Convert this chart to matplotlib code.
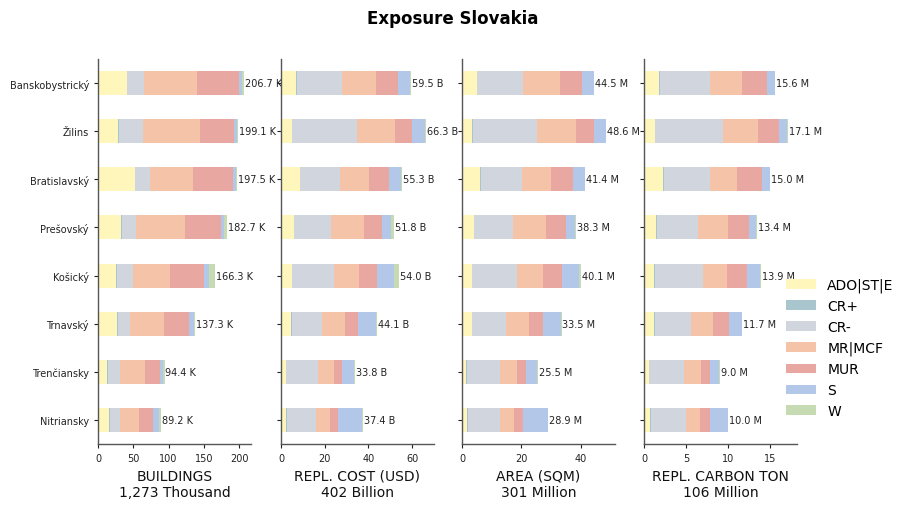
import matplotlib
matplotlib.use("Agg")
import matplotlib.pyplot as plt
from matplotlib.patches import Patch
import numpy as np

regions = ["Banskobystrický", "Žilins", "Bratislavský", "Prešovský",
           "Košický", "Trnavský", "Trenčiansky", "Nitriansky"]
classes = ["ADO|ST|E", "CR+", "CR-", "MR|MCF", "MUR", "S", "W"]

# rows follow regions; columns follow classes
buildings = [
    [40.5, 1.0, 23.5, 76.0, 59.0, 4.5, 2.2],
    [29.0, 1.0, 33.5, 81.5, 47.5, 4.5, 2.1],
    [52.0, 1.0, 20.5, 61.5, 56.0, 4.3, 2.2],
    [33.0, 0.5, 20.0, 70.0, 50.3, 4.5, 4.4],
    [26.0, 1.0, 22.0, 53.0, 49.0, 6.0, 9.3],
    [27.5, 1.0, 16.3, 48.7, 36.0, 7.3, 0.5],
    [13.3, 0.8, 16.4, 35.8, 21.5, 4.5, 2.1],
    [16.2, 0.8, 13.5, 27.2, 20.1, 8.6, 2.8],
]
repl_cost = [
    [6.9, 0.4, 20.4, 15.6, 10.1, 5.5, 0.6],
    [5.0, 0.1, 29.5, 17.4, 7.8, 6.0, 0.5],
    [8.7, 0.2, 17.9, 13.3, 9.2, 5.5, 0.5],
    [6.0, 0.1, 17.0, 14.7, 8.3, 4.1, 1.6],
    [5.0, 0.1, 19.2, 11.5, 8.3, 7.5, 2.4],
    [4.6, 0.4, 13.8, 10.6, 6.0, 8.2, 0.5],
    [2.3, 0.1, 14.3, 7.6, 3.7, 5.4, 0.4],
    [2.3, 0.45, 13.05, 6.4, 3.7, 11.0, 0.5],
]
area = [
    [4.9, 0.1, 15.6, 12.3, 7.4, 4.1, 0.1],
    [3.5, 0.1, 21.8, 12.9, 6.0, 4.1, 0.2],
    [6.2, 0.3, 13.8, 9.8, 7.2, 4.0, 0.1],
    [4.0, 0.2, 13.0, 11.2, 6.5, 3.1, 0.3],
    [3.2, 0.1, 15.3, 8.5, 6.4, 5.8, 0.8],
    [3.2, 0.1, 11.5, 7.9, 4.6, 6.1, 0.1],
    [1.5, 0.3, 11.0, 5.8, 3.0, 3.8, 0.1],
    [1.8, 0.35, 10.65, 4.8, 2.9, 8.3, 0.1],
]
carbon = [
    [1.8, 0.1, 5.9, 3.9, 2.9, 1.0, 0.0],
    [1.3, 0.05, 8.05, 4.2, 2.4, 1.05, 0.05],
    [2.25, 0.1, 5.55, 3.2, 2.9, 0.95, 0.05],
    [1.45, 0.1, 4.9, 3.55, 2.5, 0.85, 0.05],
    [1.2, 0.05, 5.8, 2.85, 2.4, 1.5, 0.1],
    [1.2, 0.15, 4.25, 2.65, 1.9, 1.5, 0.05],
    [0.6, 0.05, 4.15, 2.0, 1.1, 1.05, 0.05],
    [0.7, 0.1, 4.2, 1.7, 1.1, 2.2, 0.0],
]

panel_titles = ["BUILDINGS\n1,273 Thousand", "REPL. COST (USD)\n402 Billion",
                "AREA (SQM)\n301 Million", "REPL. CARBON TON\n106 Million"]
suffixes = ["K", "B", "M", "M"]
xticks = [[0, 50, 100, 150, 200], [0, 20, 40, 60], [0, 20, 40], [0, 5, 10, 15]]
xlims = [217, 70, 51.5, 18.2]

colors = ["#fff6bb", "#a9c5cd", "#d1d5dd", "#f5c3a7", "#e8a7a1", "#b3c7e8", "#c6dbb2"]

fig = plt.figure(figsize=(9.06, 5.10), dpi=100)
lefts = [98, 281, 462, 644]
datasets = [buildings, repl_cost, area, carbon]
spine_col = "#555555"
y = np.arange(len(regions))

for i, (data, left) in enumerate(zip(datasets, lefts)):
    ax = fig.add_axes([left / 906, 65 / 510, 153 / 906, 385 / 510])
    arr = np.array(data)
    cum = np.zeros(len(regions))
    for j, cls in enumerate(classes):
        ax.barh(y, arr[:, j], left=cum, height=0.5, color=colors[j], linewidth=0)
        cum = cum + arr[:, j]
    for k, tot in enumerate(cum):
        ax.text(tot + xlims[i] * 0.006, y[k], f"{tot:.1f} {suffixes[i]}",
                va="center", ha="left", fontsize=7, color="#222222")
    ax.set_ylim(len(regions) - 0.5, -0.5)
    ax.set_xlim(0, xlims[i])
    ax.set_yticks(y)
    if i == 0:
        ax.set_yticklabels(regions, fontsize=7, color="#222222")
    else:
        ax.set_yticklabels([])
    ax.set_xticks(xticks[i])
    ax.tick_params(axis="x", labelsize=7, colors="#222222", length=3)
    ax.tick_params(axis="y", length=3, colors="#222222")
    for s in ["top", "right"]:
        ax.spines[s].set_visible(False)
    for s in ["left", "bottom"]:
        ax.spines[s].set_color(spine_col)
        ax.spines[s].set_linewidth(1.0)
    ax.set_xlabel(panel_titles[i], fontsize=10, color="#111111", labelpad=4)

fig.suptitle("Exposure Slovakia", fontsize=12, fontweight="bold", y=0.98)

handles = [Patch(facecolor=c, edgecolor="none") for c in colors]
fig.legend(handles, classes, loc="center left", bbox_to_anchor=(773 / 906, 0.316),
           frameon=False, fontsize=10, handlelength=2.2, handleheight=0.7,
           labelspacing=0.5)

fig.savefig("out.png", dpi=100)
